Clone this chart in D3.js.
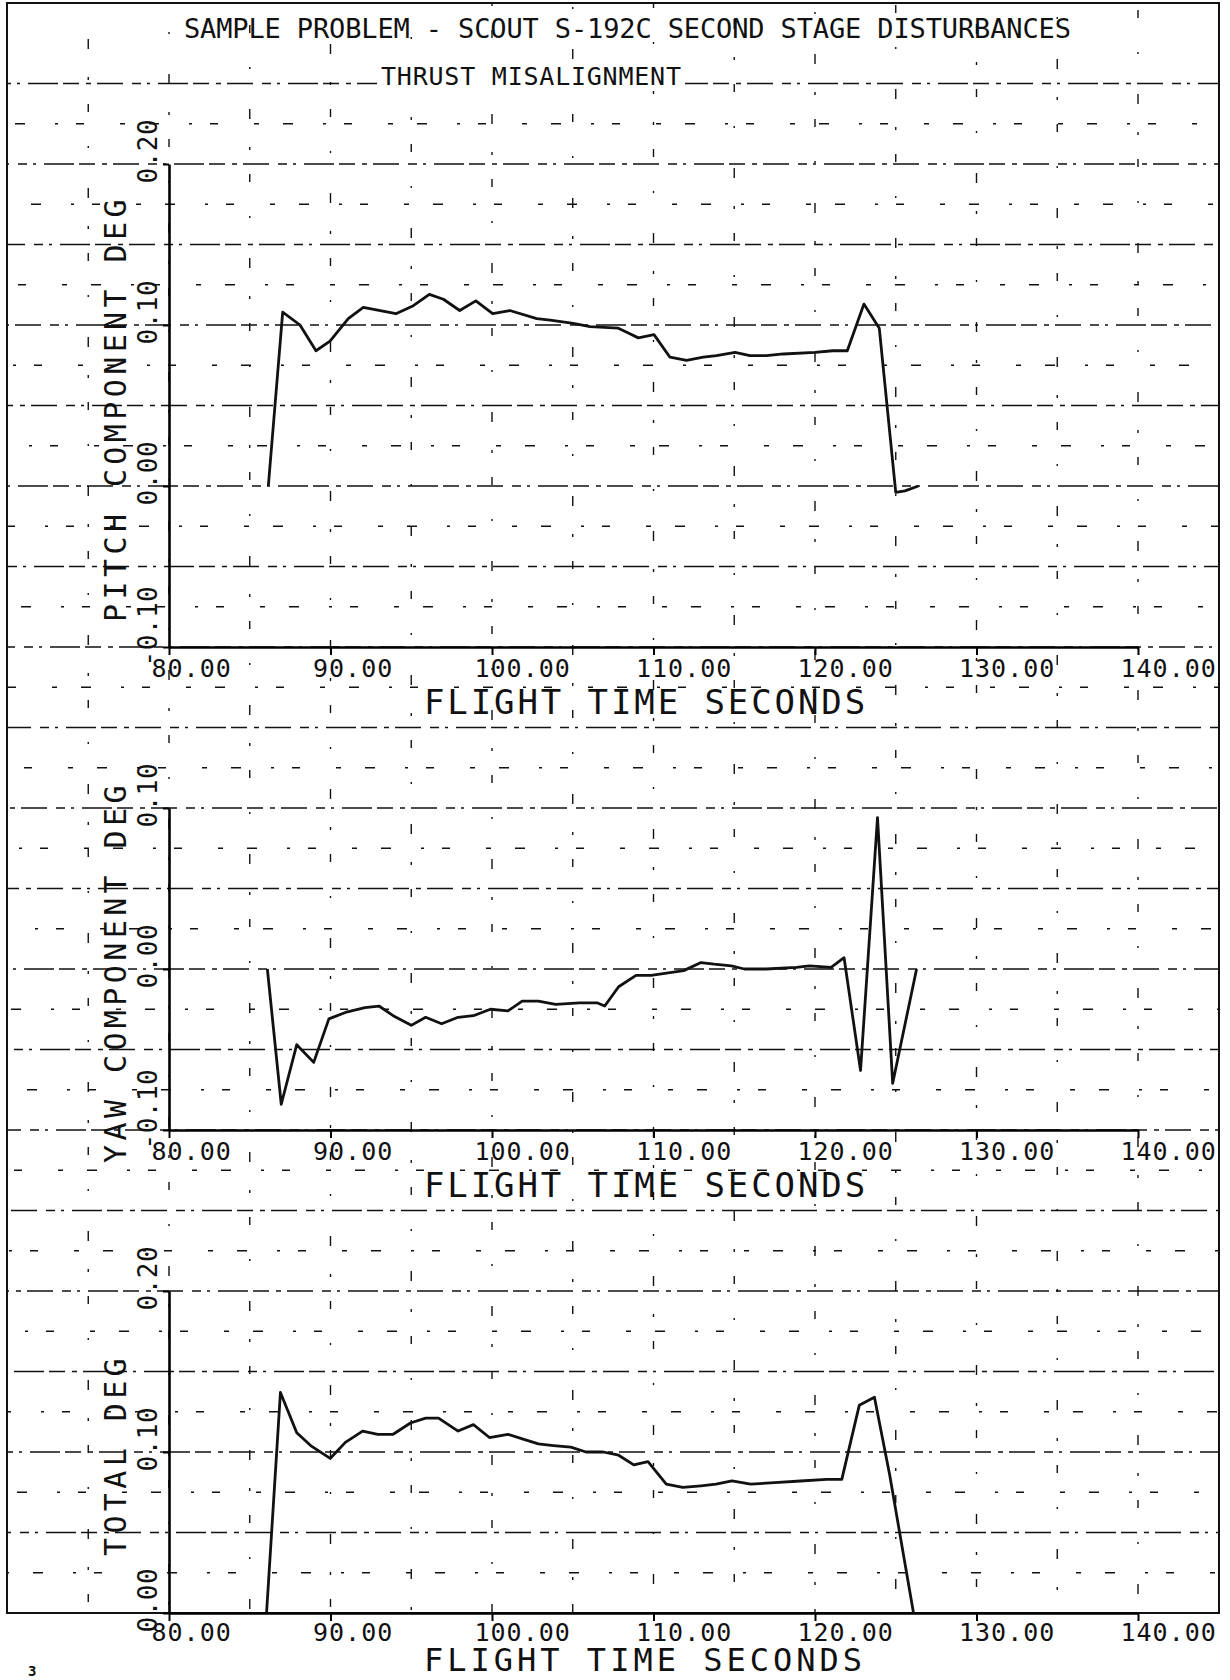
<!DOCTYPE html>
<html>
<head>
<meta charset="utf-8">
<script src="https://cdn.jsdelivr.net/npm/d3@7"></script>
<style>
  body { margin: 0; background: #fff; }
  text { font-family: "DejaVu Sans Mono", monospace; }
</style>
</head>
<body>
<div id="wrapper"></div>
<script>

// values (time in seconds, angle in degrees)
const pitchTime = [86.15, 87.04, 88.11, 89.10, 89.97, 91.10, 92.03, 94.05, 95.13, 96.12, 96.99, 98.00, 99.00, 100.04,
    101.10, 102.77, 103.60, 105.03, 106.07, 107.82, 108.44, 109.06, 110.03, 111.02, 112.05, 113.08, 113.90, 115.05,
    115.97, 117.00, 118.04, 120.00, 121.10, 122.00, 123.03, 123.98, 125.00, 125.57, 126.40]
const pitchDeg = [0.000, 0.108, 0.100, 0.084, 0.090, 0.104, 0.111, 0.107, 0.112, 0.119, 0.116, 0.109, 0.115, 0.107,
    0.109, 0.104, 0.103, 0.101, 0.099, 0.098, 0.095, 0.092, 0.094, 0.080, 0.078, 0.080, 0.081, 0.083,
    0.081, 0.081, 0.082, 0.083, 0.084, 0.084, 0.113, 0.098, -0.004, -0.003, 0.000]

const yawTime = [86.09, 86.95, 87.91, 88.96, 89.90, 90.92, 92.13, 93.00, 93.88, 95.00, 95.89, 96.88, 97.90, 98.85,
    99.90, 100.99, 101.87, 102.87, 103.94, 105.42, 106.50, 106.98, 107.84, 108.92, 109.85, 111.87, 112.94, 113.75,
    114.82, 115.63, 116.97, 118.85, 119.65, 121.00, 121.80, 122.82, 123.87, 124.81, 126.29]
const yawDeg = [0.000, -0.084, -0.047, -0.058, -0.031, -0.027, -0.024, -0.023, -0.029, -0.035, -0.030, -0.034, -0.030, -0.029,
    -0.025, -0.026, -0.020, -0.020, -0.022, -0.021, -0.021, -0.023, -0.011, -0.004, -0.004, -0.001, 0.004, 0.003,
    0.002, 0.000, 0.000, 0.001, 0.002, 0.001, 0.007, -0.063, 0.094, -0.071, 0.000]

const totalTime = [86.04, 86.90, 87.91, 88.77, 89.98, 90.92, 91.99, 92.93, 93.88, 94.95, 95.89, 96.69, 97.90, 98.85,
    99.84, 100.99, 101.93, 102.87, 103.81, 104.88, 105.82, 106.89, 107.84, 108.78, 109.66, 110.79, 111.81, 112.94,
    113.87, 114.86, 116.02, 117.50, 119.10, 120.72, 121.66, 122.74, 123.68, 124.62, 126.10]
const totalDeg = [0.000, 0.137, 0.112, 0.104, 0.096, 0.106, 0.113, 0.111, 0.111, 0.118, 0.121, 0.121, 0.113, 0.117,
    0.109, 0.111, 0.108, 0.105, 0.104, 0.103, 0.100, 0.100, 0.098, 0.092, 0.094, 0.080, 0.078, 0.079,
    0.080, 0.082, 0.080, 0.081, 0.082, 0.083, 0.083, 0.129, 0.134, 0.086, 0.000]

const timeTicks = [80, 90, 100, 110, 120, 130, 140]
const pitchTicks = [0.20, 0.10, 0.00, -0.10]
const yawTicks = [0.10, 0.00, -0.10]
const totalTicks = [0.20, 0.10, 0.00]

const titleText = "SAMPLE PROBLEM - SCOUT S-192C SECOND STAGE DISTURBANCES"
const subtitleText = "THRUST MISALIGNMENT"
const timeLabel = "FLIGHT TIME SECONDS"
const pageNumber = "3"

function drawChart() {

    // 1. Chart dimensions (page = sheet of graph paper, 40 rows of 0.025 deg)
    const dimensions = {
        width: 1230,
        height: 1680,
        frame: { left: 7, right: 1219, top: 3, bottom: 1613 },
        rows: 40,
    }

    const wrapper = d3.select("#wrapper")
        .append("svg")
        .attr("width", dimensions.width)
        .attr("height", dimensions.height)

    wrapper.append("rect")
        .attr("width", dimensions.width)
        .attr("height", dimensions.height)
        .attr("fill", "#fff")

    // 2. Scales
    const xScale = d3.scaleLinear()
        .domain([80, 140])
        .range([169, 1138])

    const rowScale = d3.scaleLinear()
        .domain([0, dimensions.rows])
        .range([dimensions.frame.top, dimensions.frame.bottom])

    const fmt = v => d3.format(".2f")(v).replace("\u2212", "-")

    // 3. Graph paper grid (scanned, so the rulings are broken up)
    const grid = wrapper.append("g")
        .attr("stroke", "#111")
        .attr("stroke-width", 1.6)

    grid.selectAll(".row")
        .data(d3.range(2, dimensions.rows))
        .join("line")
        .attr("class", "row")
        .attr("x1", dimensions.frame.left)
        .attr("x2", dimensions.frame.right)
        .attr("y1", d => rowScale(d))
        .attr("y2", d => rowScale(d))
        .attr("stroke-dasharray", d => d % 2 == 0 ? "16,7,5,6,26,9,9,6,3,8,30,5" : "5,24,10,30,3,18,8,36")
        .attr("stroke-dashoffset", d => (d * 37) % 90)

    grid.selectAll(".col")
        .data(d3.range(75, 145, 5))
        .join("line")
        .attr("class", "col")
        .attr("x1", d => xScale(d))
        .attr("x2", d => xScale(d))
        .attr("y1", dimensions.frame.top)
        .attr("y2", dimensions.frame.bottom)
        .attr("stroke-width", 1.4)
        .attr("stroke-dasharray", "3,24,8,34,2,40,10,28")
        .attr("stroke-dashoffset", d => (d * 13) % 100)

    wrapper.append("rect")
        .attr("x", dimensions.frame.left)
        .attr("y", dimensions.frame.top)
        .attr("width", dimensions.frame.right - dimensions.frame.left)
        .attr("height", dimensions.frame.bottom - dimensions.frame.top)
        .attr("fill", "none")
        .attr("stroke", "#111")
        .attr("stroke-width", 2)

    // 4. Titles
    wrapper.append("text")
        .attr("x", 184)
        .attr("y", 38)
        .attr("font-size", 27)
        .attr("textLength", 887)
        .attr("lengthAdjust", "spacing")
        .attr("fill", "#111")
        .text(titleText)

    const sub = wrapper.append("g")
    const subText = sub.append("text")
        .attr("x", 381)
        .attr("y", 85)
        .attr("font-size", 25)
        .attr("textLength", 300)
        .attr("lengthAdjust", "spacing")
        .attr("fill", "#111")
        .text(subtitleText)
    const bb = subText.node().getBBox()
    sub.insert("rect", "text")
        .attr("x", bb.x - 4)
        .attr("y", bb.y)
        .attr("width", bb.width + 8)
        .attr("height", bb.height)
        .attr("fill", "#fff")

    // 5. Panels
    const panels = [
        { time: pitchTime, values: pitchDeg, ticks: pitchTicks, domain: [0.20, -0.10], rows: [4, 16], label: "PITCH COMPONENT DEG" },
        { time: yawTime, values: yawDeg, ticks: yawTicks, domain: [0.10, -0.10], rows: [20, 28], label: "YAW COMPONENT DEG" },
        { time: totalTime, values: totalDeg, ticks: totalTicks, domain: [0.20, 0.00], rows: [32, 40], label: "TOTAL DEG" },
    ]

    panels.forEach((p, i) => {
        const yScale = d3.scaleLinear()
            .domain(p.domain)
            .range(p.rows.map(rowScale))

        const bottom = yScale(p.domain[1])
        const last = i == panels.length - 1
        const bounds = wrapper.append("g")

        const xAxis = bounds.append("g")
            .attr("transform", `translate(0, ${bottom})`)
            .call(d3.axisBottom(xScale)
                .tickValues(timeTicks)
                .tickFormat(fmt)
                .tickSize(8)
                .tickSizeOuter(0))
        xAxis.select(".domain").attr("stroke-width", 2.6)
        xAxis.selectAll(".tick line").attr("stroke-width", 2)
        xAxis.selectAll(".tick text")
            .attr("font-family", "DejaVu Sans Mono")
            .attr("font-size", 25)
            .attr("letter-spacing", 1)
            .attr("text-anchor", "start")
            .attr("fill", "#111")
            .attr("dy", null)
            .attr("x", -18)
            .attr("y", last ? 28 : 30)

        const yAxis = bounds.append("g")
            .attr("transform", `translate(${xScale(80)}, 0)`)
            .call(d3.axisLeft(yScale)
                .tickValues(p.ticks)
                .tickFormat(fmt)
                .tickSize(6)
                .tickSizeOuter(0))
        yAxis.select(".domain").attr("stroke-width", 2.6)
        yAxis.selectAll(".tick line").attr("stroke-width", 2)
        yAxis.selectAll(".tick text")
            .attr("font-family", "DejaVu Sans Mono")
            .attr("font-size", 26)
            .attr("letter-spacing", 0.5)
            .attr("text-anchor", "start")
            .attr("fill", "#111")
            .attr("dy", null)
            .attr("x", 0)
            .attr("transform", "translate(-12, 19) rotate(-90)")

        bounds.append("text")
            .attr("transform", `translate(126, ${d3.mean(p.rows.map(rowScale)) + 3}) rotate(-90)`)
            .attr("text-anchor", "middle")
            .attr("font-size", 30)
            .attr("letter-spacing", 4.4)
            .attr("fill", "#111")
            .text(p.label)

        // the last label sits on the bottom edge of the sheet
        bounds.append("text")
            .attr("x", 424)
            .attr("y", last ? 1671 : bottom + 67)
            .attr("font-size", last ? 32 : 34)
            .attr("letter-spacing", last ? 4 : 2.9)
            .attr("fill", "#111")
            .text(timeLabel)

        const lineGenerator = d3.line()
            .x(d => xScale(d[0]))
            .y(d => yScale(d[1]))

        bounds.append("path")
            .attr("d", lineGenerator(d3.zip(p.time, p.values)))
            .attr("fill", "none")
            .attr("stroke", "#111")
            .attr("stroke-width", 2.8)
            .attr("stroke-linejoin", "round")
    })

    wrapper.append("text")
        .attr("x", 28)
        .attr("y", 1676)
        .attr("font-family", "DejaVu Sans")
        .attr("font-weight", "bold")
        .attr("font-size", 14)
        .attr("fill", "#111")
        .text(pageNumber)
}

drawChart()
</script>
</body>
</html>
